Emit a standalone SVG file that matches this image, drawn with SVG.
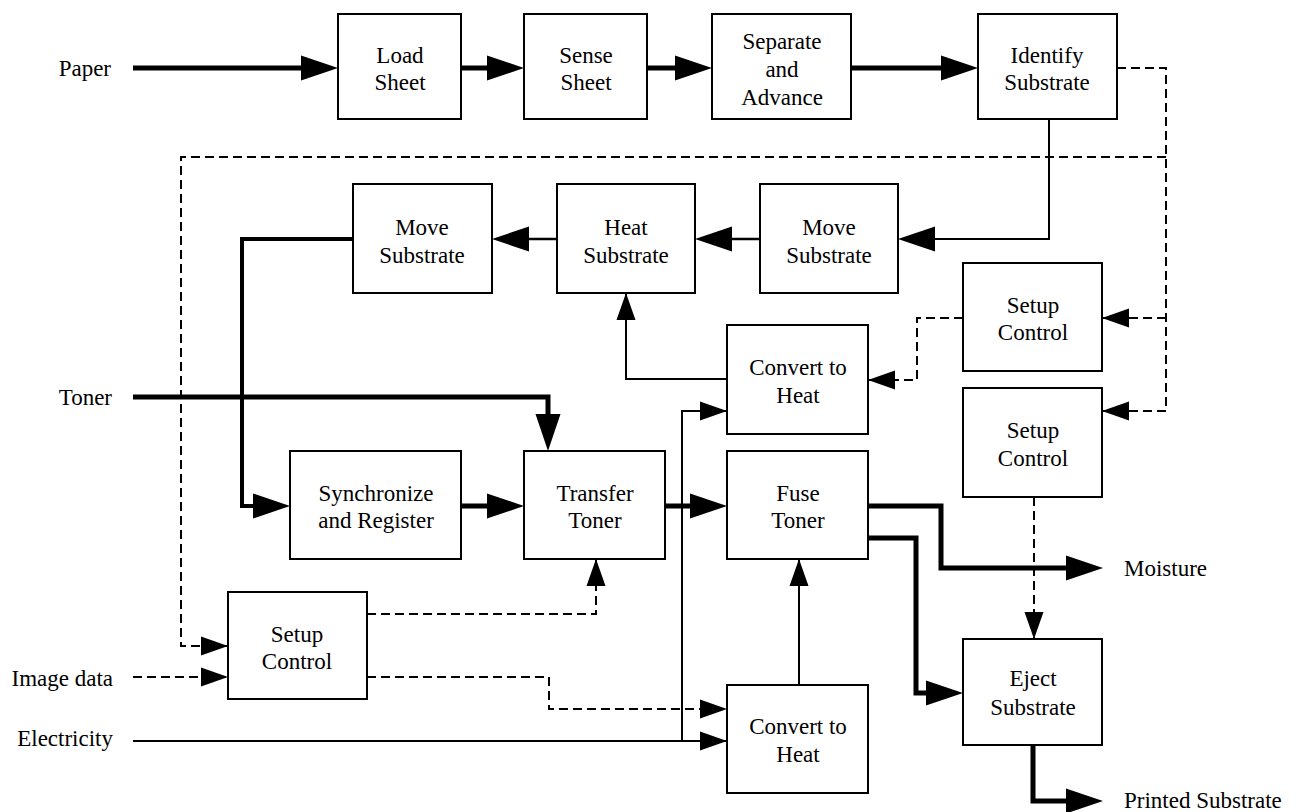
<svg xmlns="http://www.w3.org/2000/svg" width="1296" height="812" viewBox="0 0 1296 812">
<style>
.box{fill:#fff;stroke:#000;stroke-width:2}
text{font-family:"Liberation Serif","Times New Roman",serif;font-size:23px;fill:#000}
.c{text-anchor:middle}
.e{text-anchor:end}
.thick{fill:none;stroke:#000;stroke-width:5}
.med{fill:none;stroke:#000;stroke-width:2.5}
.thin{fill:none;stroke:#000;stroke-width:2}
.dash{fill:none;stroke:#000;stroke-width:2;stroke-dasharray:9 5}
</style>
<defs>
<marker id="big" markerUnits="userSpaceOnUse" markerWidth="37" markerHeight="25" refX="27" refY="12.5" orient="auto" overflow="visible">
<path d="M0,0 L37,12.5 L0,25 z" fill="#000"/>
</marker>
<marker id="sm" markerUnits="userSpaceOnUse" markerWidth="27" markerHeight="19" refX="27" refY="9.5" orient="auto" overflow="visible">
<path d="M0,0 L27,9.5 L0,19 z" fill="#000"/>
</marker>
</defs>
<rect width="1296" height="812" fill="#fff"/>

<g id="connectors">
<path class="thick" d="M133,68 H328" marker-end="url(#big)"/>
<path class="thick" d="M461,68 H514" marker-end="url(#big)"/>
<path class="thick" d="M647,68 H702" marker-end="url(#big)"/>
<path class="thick" d="M851,68 H968" marker-end="url(#big)"/>
<path class="thick" d="M133,397 H548 V441" marker-end="url(#big)"/>
<path class="thick" style="stroke-width:4" d="M353,239 H242 V506 H280" marker-end="url(#big)"/>
<path class="thick" d="M461,506 H514" marker-end="url(#big)"/>
<path class="thick" d="M665,506 H717" marker-end="url(#big)"/>
<path class="thick" d="M868,506 H941 V568 H1093" marker-end="url(#big)"/>
<path class="thick" d="M868,538 H916 V693 H953" marker-end="url(#big)"/>
<path class="thick" d="M1033,745 V801 H1093" marker-end="url(#big)"/>
<path class="thin" d="M1049,119 V239 H908" marker-end="url(#big)"/>
<path class="med" d="M760,239 H705" marker-end="url(#big)"/>
<path class="med" d="M557,239 H502" marker-end="url(#big)"/>
<path class="thin" d="M727,379 H626 V293" marker-end="url(#sm)"/>
<path class="thin" d="M133,741 H727" marker-end="url(#sm)"/>
<path class="thin" d="M682,741 V411 H727" marker-end="url(#sm)"/>
<path class="thin" d="M799,685 V559" marker-end="url(#sm)"/>
<path class="dash" d="M1117,68 H1166 V411 H1102" marker-end="url(#sm)"/>
<path class="dash" d="M1166,318 H1102" marker-end="url(#sm)"/>
<path class="dash" d="M1166,157 H181 V646 H228" marker-end="url(#sm)"/>
<path class="dash" d="M963,318 H917 V380 H868" marker-end="url(#sm)"/>
<path class="dash" d="M133,677 H228" marker-end="url(#sm)"/>
<path class="dash" d="M367,614 H596 V559" marker-end="url(#sm)"/>
<path class="dash" d="M367,677 H549 V709 H727" marker-end="url(#sm)"/>
<path class="dash" d="M1034,497 V639" marker-end="url(#sm)"/>
</g>

<g id="labels">
<text class="e" x="111" y="76">Paper</text>
<text class="e" x="112" y="405">Toner</text>
<text class="e" x="113" y="686">Image data</text>
<text class="e" x="113" y="746">Electricity</text>
<text x="1124" y="576">Moisture</text>
<text x="1124" y="808">Printed Substrate</text>
</g>

<g id="load-sheet"><rect class="box" x="338" y="14" width="123" height="105"/>
<text class="c" x="400" y="63">Load</text><text class="c" x="400" y="90">Sheet</text></g>
<g id="sense-sheet"><rect class="box" x="524" y="14" width="123" height="105"/>
<text class="c" x="586" y="63">Sense</text><text class="c" x="586" y="90">Sheet</text></g>
<g id="separate-advance"><rect class="box" x="712" y="14" width="139" height="105"/>
<text class="c" x="782" y="49">Separate</text><text class="c" x="782" y="77">and</text><text class="c" x="782" y="105">Advance</text></g>
<g id="identify-substrate"><rect class="box" x="978" y="14" width="139" height="105"/>
<text class="c" x="1047" y="63">Identify</text><text class="c" x="1047" y="90">Substrate</text></g>

<g id="move-substrate-1"><rect class="box" x="760" y="184" width="138" height="109"/>
<text class="c" x="829" y="235">Move</text><text class="c" x="829" y="263">Substrate</text></g>
<g id="heat-substrate"><rect class="box" x="557" y="184" width="138" height="109"/>
<text class="c" x="626" y="235">Heat</text><text class="c" x="626" y="263">Substrate</text></g>
<g id="move-substrate-2"><rect class="box" x="353" y="184" width="139" height="109"/>
<text class="c" x="422" y="235">Move</text><text class="c" x="422" y="263">Substrate</text></g>

<g id="setup-control-1"><rect class="box" x="963" y="263" width="139" height="108"/>
<text class="c" x="1033" y="313">Setup</text><text class="c" x="1033" y="340">Control</text></g>
<g id="setup-control-2"><rect class="box" x="963" y="388" width="139" height="109"/>
<text class="c" x="1033" y="438">Setup</text><text class="c" x="1033" y="466">Control</text></g>
<g id="convert-heat-1"><rect class="box" x="727" y="325" width="141" height="109"/>
<text class="c" x="798" y="375">Convert to</text><text class="c" x="798" y="403">Heat</text></g>

<g id="synchronize-register"><rect class="box" x="290" y="451" width="171" height="108"/>
<text class="c" x="376" y="501">Synchronize</text><text class="c" x="376" y="528">and Register</text></g>
<g id="transfer-toner"><rect class="box" x="524" y="451" width="141" height="108"/>
<text class="c" x="595" y="501">Transfer</text><text class="c" x="595" y="528">Toner</text></g>
<g id="fuse-toner"><rect class="box" x="727" y="451" width="141" height="108"/>
<text class="c" x="798" y="501">Fuse</text><text class="c" x="798" y="528">Toner</text></g>

<g id="setup-control-3"><rect class="box" x="228" y="592" width="139" height="107"/>
<text class="c" x="297" y="642">Setup</text><text class="c" x="297" y="669">Control</text></g>
<g id="convert-heat-2"><rect class="box" x="727" y="685" width="141" height="108"/>
<text class="c" x="798" y="734">Convert to</text><text class="c" x="798" y="762">Heat</text></g>
<g id="eject-substrate"><rect class="box" x="963" y="639" width="139" height="106"/>
<text class="c" x="1033" y="686">Eject</text><text class="c" x="1033" y="715">Substrate</text></g>
</svg>
